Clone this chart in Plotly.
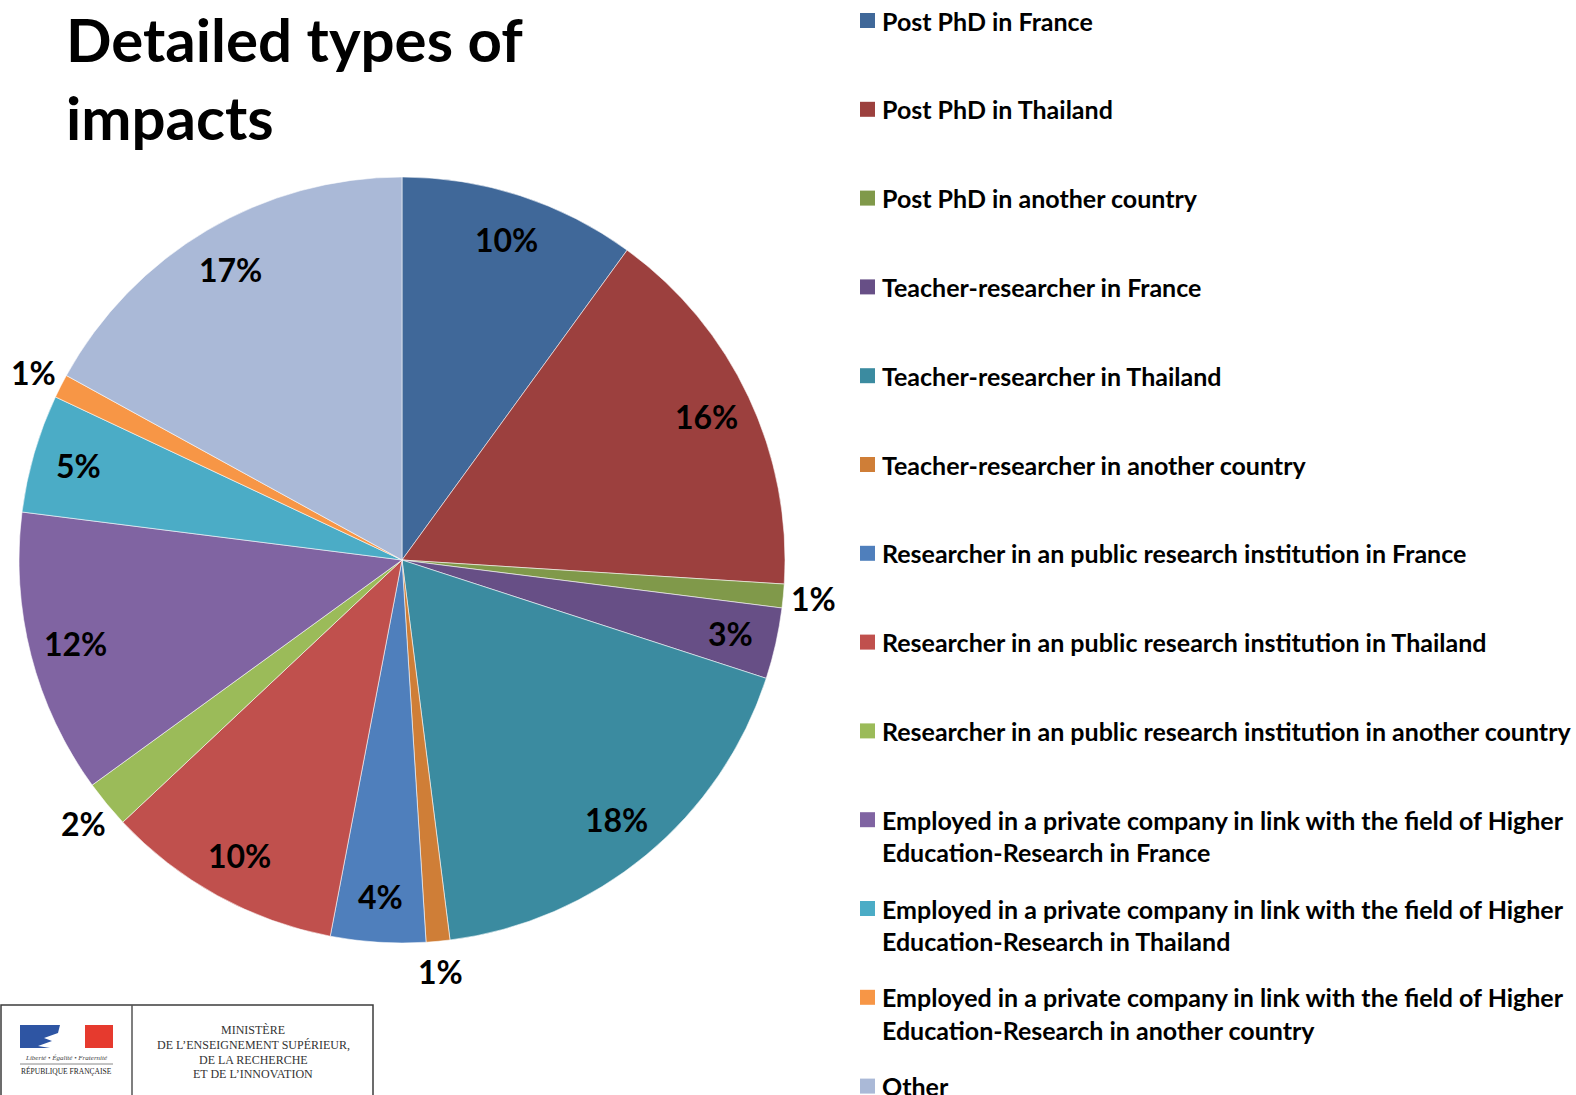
import math
import textwrap
import plotly.graph_objects as go

# ---- data -------------------------------------------------------------
categories = [
    "Post PhD in France",
    "Post PhD in Thailand",
    "Post PhD in another country",
    "Teacher-researcher in France",
    "Teacher-researcher in Thailand",
    "Teacher-researcher in another country",
    "Researcher in an public research institution in France",
    "Researcher in an public research institution in Thailand",
    "Researcher in an public research institution in another country",
    "Employed in a private company in link with the field of Higher Education-Research in France",
    "Employed in a private company in link with the field of Higher Education-Research in Thailand",
    "Employed in a private company in link with the field of Higher Education-Research in another country",
    "Other",
]
shares = [10, 16, 1, 3, 18, 1, 4, 10, 2, 12, 5, 1, 17]
colors = [
    "#406899", "#9C403E", "#80994A", "#674F86", "#3B8BA0", "#CF7E37",
    "#4F7FBC", "#C0504D", "#9BBB59", "#8064A2", "#4BACC6", "#F79646",
    "#AAB9D7",
]
title_lines = ["Detailed types of", "impacts"]
ministry_lines = ["MINISTÈRE", "DE L’ENSEIGNEMENT SUPÉRIEUR,", "DE LA RECHERCHE", "ET DE L’INNOVATION"]

# ---- geometry (pixels) -------------------------------------------------
W, H = 1576, 1095
cx, cy, R = 402, 560, 383
FONT = "Lato"


def px(x):
    return x / W


def py(y):
    return 1 - y / H


fig = go.Figure(
    go.Pie(
        labels=categories,
        values=shares,
        sort=False,
        direction="clockwise",
        rotation=0,
        marker=dict(colors=colors, line=dict(color="rgba(255,255,255,0.7)", width=0.8)),
        textinfo="none",
        hoverinfo="label+percent",
        showlegend=False,
        domain=dict(x=[px(cx - R), px(cx + R)], y=[py(cy + R), py(cy - R)]),
    )
)

# percentage labels: inside near the rim for larger slices, just outside for small ones
total = sum(shares)
cum = 0
for v in shares:
    mid = (cum + v / 2) / total * 2 * math.pi
    cum += v
    k = 0.88 if v >= 3 else 1.08
    lx = cx + k * R * math.sin(mid)
    ly = cy - k * R * math.cos(mid)
    fig.add_annotation(
        x=px(lx), y=py(ly), xref="paper", yref="paper",
        text=f"{round(100 * v / total)}%", showarrow=False,
        xanchor="center", yanchor="middle",
        font=dict(family=FONT, size=32, color="black", weight=700),
    )

# legend on the right, evenly spaced entries
pitch = 88.8
line_gap = 32.2
for i, (name, col) in enumerate(zip(categories, colors)):
    y0 = 20.5 + i * pitch
    fig.add_shape(
        type="rect", xref="paper", yref="paper",
        x0=px(860), x1=px(875), y0=py(y0 + 7.5), y1=py(y0 - 7.5),
        fillcolor=col, line=dict(width=0),
    )
    for j, line in enumerate(textwrap.wrap(name, 63)):
        fig.add_annotation(
            x=px(880), y=py(y0 + j * line_gap), xref="paper", yref="paper",
            text=line, showarrow=False, xanchor="left", yanchor="middle",
            font=dict(family=FONT, size=25, color="black", weight=700),
        )

# ministry logo block, bottom left
fig.add_shape(type="rect", xref="paper", yref="paper",
              x0=px(1), x1=px(373), y0=py(1110), y1=py(1005),
              line=dict(color="#3c3c3c", width=1.5), fillcolor="white", layer="below")
fig.add_shape(type="line", xref="paper", yref="paper",
              x0=px(132), x1=px(132), y0=py(1005), y1=py(1095),
              line=dict(color="#555555", width=1.5))
fig.add_shape(type="rect", xref="paper", yref="paper",
              x0=px(20), x1=px(60), y0=py(1048), y1=py(1025),
              fillcolor="#2E55A3", line=dict(width=0))
fig.add_shape(type="rect", xref="paper", yref="paper",
              x0=px(85), x1=px(113), y0=py(1048), y1=py(1025),
              fillcolor="#E63A2E", line=dict(width=0))
# Marianne profile in white over the flag
fig.add_shape(type="path", xref="paper", yref="paper",
              path=(f"M {px(60)},{py(1025)} L {px(58)},{py(1033)} "
                    f"L {px(44)},{py(1038)} L {px(52)},{py(1041)} L {px(38)},{py(1046)} "
                    f"L {px(50)},{py(1048)} L {px(62)},{py(1048)} Z"),
              fillcolor="white", line=dict(width=0))
fig.add_shape(type="path", xref="paper", yref="paper",
              path=(f"M {px(85)},{py(1025)} L {px(80)},{py(1030)} L {px(84)},{py(1036)} "
                    f"L {px(81)},{py(1040)} L {px(85)},{py(1048)} Z"),
              fillcolor="white", line=dict(width=0))
fig.add_annotation(x=px(66), y=py(1058), xref="paper", yref="paper",
                   text="<i>Liberté • Égalité • Fraternité</i>", showarrow=False,
                   xanchor="center", yanchor="middle",
                   font=dict(family="Liberation Serif", size=7, color="#444444"))
fig.add_shape(type="line", xref="paper", yref="paper",
              x0=px(20), x1=px(113), y0=py(1064), y1=py(1064),
              line=dict(color="#888888", width=1))
fig.add_annotation(x=px(66), y=py(1071), xref="paper", yref="paper",
                   text="RÉPUBLIQUE FRANÇAISE", showarrow=False,
                   xanchor="center", yanchor="middle",
                   font=dict(family="Liberation Serif", size=7.5, color="#222222"))
for j, line in enumerate(ministry_lines):
    fig.add_annotation(x=px(253), y=py(1030 + j * 14.8), xref="paper", yref="paper",
                       text=line, showarrow=False, xanchor="center", yanchor="middle",
                       font=dict(family="Liberation Serif", size=12, color="#333333"))

fig.update_layout(
    width=W, height=H,
    margin=dict(l=0, r=0, t=0, b=0),
    paper_bgcolor="white", plot_bgcolor="white",
    title=dict(
        text="<br>".join(title_lines),
        x=px(66), xanchor="left", xref="paper",
        y=py(62), yanchor="top", yref="container",
        font=dict(family=FONT, size=60, color="black", weight=700),
    ),
)

fig.write_html("out.html")
